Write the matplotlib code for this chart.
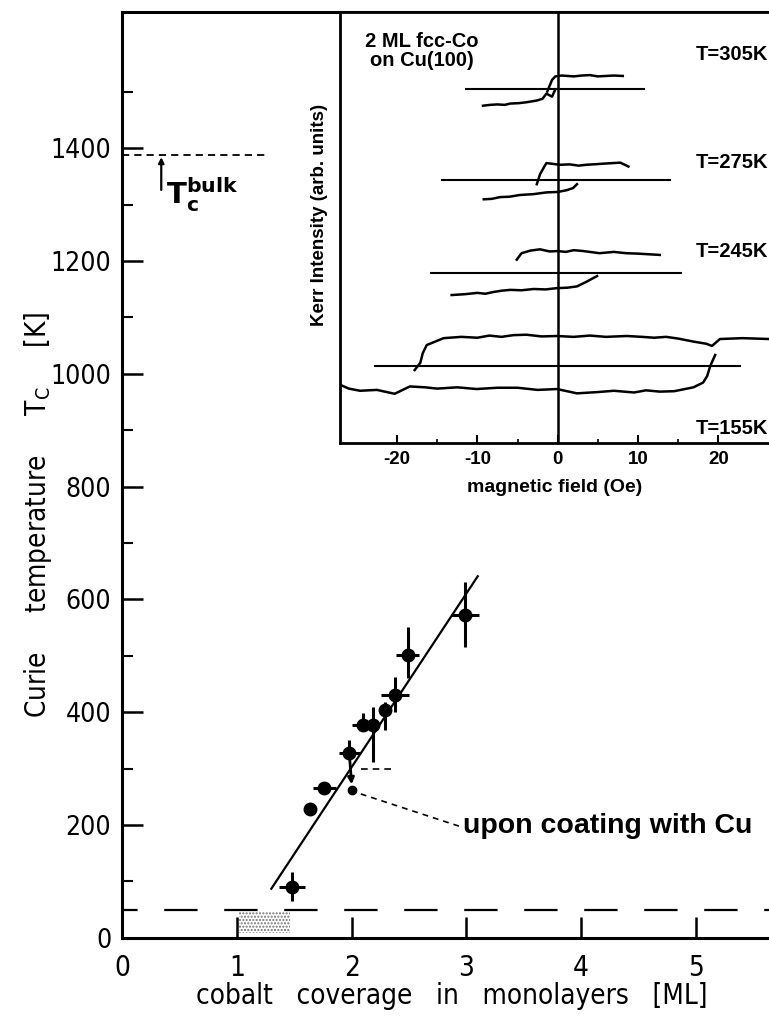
import matplotlib
matplotlib.use('Agg')
import matplotlib.pyplot as plt
from matplotlib import font_manager
from matplotlib.font_manager import FontProperties
from matplotlib.patches import Rectangle

# ---- main panel data (Curie temperature vs coverage) ----
coverage = [1.48, 1.64, 1.76, 1.98, 2.10, 2.19, 2.29, 2.38, 2.49, 2.99]
tc = [90, 229, 266, 327, 377, 377, 404, 430, 501, 572]
cov_err = [0.11, 0.0, 0.10, 0.09, 0.10, 0.0, 0.0, 0.12, 0.10, 0.12]
tc_err_lo = [25, 0, 0, 0, 0, 65, 36, 29, 41, 56]
tc_err_hi = [27, 0, 0, 23, 21, 33, 14, 33, 50, 59]

fit_x = [1.30, 3.10]
fit_y = [87, 641]

coated_x = [2.0]
coated_y = [262]
coated2_x = [2.08, 2.37]
coated2_y = [299, 299]

tc_bulk = 1388
low_limit = 50

# ---- inset data (Kerr loops, arb. units) ----
temps = ['T=305K', 'T=275K', 'T=245K', 'T=155K']
label_y = [90.0, 65.0, 44.4, 3.4]
base_y = [82.1, 60.9, 39.5, 17.9]
base_x0 = [-11.4, -14.4, -15.8, -22.7]
base_x1 = [10.7, 14.0, 15.4, 22.7]

up305_x = [-1.3, -0.7, -0.3, 0.5, 2, 3, 4, 5, 6, 7, 8.1]
up305_y = [81.5, 84.2, 85.0, 85.2, 85.0, 85.2, 85.3, 85.0, 85.1, 85.2, 85.1]
lo305_x = [-9.3, -8.4, -7.5, -6.6, -5.9, -4.8, -3.9, -2.6, -1.9, -1.4, -0.7, -0.3]
lo305_y = [78.2, 78.4, 78.5, 78.4, 78.7, 78.8, 79.0, 79.4, 79.8, 81.0, 80.3, 82.0]

up275_x = [-2.6, -2.2, -1.6, -1.4, 0.3, 1.5, 2.6, 3.5, 4.4, 6, 7.8, 8.8]
up275_y = [60.0, 62.3, 64.3, 64.9, 64.5, 64.6, 64.3, 64.5, 64.6, 64.8, 65.0, 64.1]
lo275_x = [-9.2, -8.2, -7.2, -6, -4.7, -3, -1.4, 0, 1.1, 1.9, 2.4]
lo275_y = [56.5, 56.6, 57.0, 57.1, 57.5, 57.7, 58.1, 58.2, 58.6, 59.1, 60.0]

up245_x = [-5.1, -4.5, -3.4, -2.2, -1, 0, 1, 2, 3.2, 4.4, 5.2, 7, 8.5, 10, 12.7]
up245_y = [42.5, 44.0, 44.6, 44.9, 44.4, 44.5, 44.3, 44.7, 44.5, 44.2, 44.0,
           44.3, 44.0, 43.9, 43.6]
lo245_x = [-13.2, -11.5, -10, -9, -8, -7, -5.9, -4.5, -3, -1.5, -0.1, 1.2, 2.4,
           3.5, 4.9]
lo245_y = [34.3, 34.5, 34.8, 34.6, 35.0, 35.3, 35.5, 35.4, 35.7, 35.6, 35.9,
           36.0, 36.3, 37.3, 38.7]

up155_x = [-17.8, -17.1, -16.8, -16.3, -14.2, -12, -10, -8.5, -7, -5.5, -3.9,
           -2, -0.1, 2, 4, 6, 8.6, 10.5, 12, 13.5, 15, 16.9, 18.5, 19.2, 20.2,
           23, 26.3]
up155_y = [16.9, 18.6, 20.8, 22.7, 24.3, 24.6, 24.4, 24.9, 24.6, 25.0, 25.1,
           24.7, 24.8, 24.6, 24.9, 24.6, 24.8, 24.6, 24.4, 24.6, 24.2, 23.5,
           23.0, 22.5, 24.1, 24.3, 24.1]
lo155_x = [-27.1, -26, -24.6, -22.5, -20.3, -18.4, -16.5, -15, -12.5, -10.1,
           -7.5, -5, -2.5, -0.1, 2.4, 5, 7, 9.5, 11, 12.7, 14.5, 16.9, 18.1,
           18.6, 19.0, 19.6]
lo155_y = [13.5, 12.6, 12.1, 12.3, 11.4, 13.1, 12.9, 12.6, 12.9, 12.5, 12.8,
           12.8, 12.3, 12.5, 11.5, 11.8, 12.1, 11.7, 12.2, 11.9, 12.0, 12.9,
           14.0, 15.5, 17.9, 20.4]

loops = [(up305_x, up305_y, lo305_x, lo305_y),
         (up275_x, up275_y, lo275_x, lo275_y),
         (up245_x, up245_y, lo245_x, lo245_y),
         (up155_x, up155_y, lo155_x, lo155_y)]


def pick_font(size):
    """condensed sans if there is one, else plain DejaVu"""
    for f in font_manager.fontManager.ttflist:
        if f.name.startswith('DejaVu Sans') and 'ondensed' in (str(f.stretch) + f.name) \
                and f.style == 'normal' and f.weight in (400, 'normal', 'book'):
            return FontProperties(family=f.name, stretch=f.stretch, size=size)
    for f in font_manager.fontManager.ttflist:
        if 'Narrow' in f.name:
            return FontProperties(family=f.name, size=size)
    return FontProperties(family='DejaVu Sans', size=size - 2)


fp = pick_font(19)
fp_big = pick_font(20)
fp_lab = pick_font(20)

fig = plt.figure(figsize=(7.69, 10.27), dpi=100)

# ---------------- main panel ----------------
ax = fig.add_axes([0.159, 0.0869, 0.841, 0.9017])
ax.set_xlim(0, 5.64)
ax.set_ylim(0, 1642)

ax.plot(fit_x, fit_y, color='k', lw=1.6)
ax.errorbar(coverage, tc, xerr=cov_err, yerr=[tc_err_lo, tc_err_hi], fmt='o',
            color='k', ms=9, elinewidth=2.2, capsize=0)
ax.annotate('', xy=(coated_x[0], coated_y[0] + 10), xytext=(coverage[3], tc[3]),
            arrowprops=dict(arrowstyle='-|>', lw=2, color='k', mutation_scale=9,
                            shrinkA=0, shrinkB=0))
ax.plot(coated_x, coated_y, 'o', color='k', ms=6)
ax.plot(coated2_x, coated2_y, color='k', lw=1.2, ls=(0, (4, 3)))
ax.plot([2.08, 2.95], [255, 197], color='k', lw=1.2, ls=(0, (3.5, 3)))
ax.text(2.97, 198, 'upon coating with Cu', fontsize=20.5, fontweight='bold',
        family='Liberation Sans', va='center', ha='left')

ax.axhline(low_limit, color='k', lw=1.6, ls=(8, (15, 12)))
ax.add_patch(Rectangle((1.02, 8), 0.44, 38, facecolor='none', edgecolor='0.45',
                       hatch='.....', lw=0))

ax.plot([0, 1.26], [tc_bulk, tc_bulk], color='k', lw=1.3, ls=(0, (4, 2.8)))
ax.annotate('', xy=(0.34, tc_bulk - 4), xytext=(0.34, 1326),
            arrowprops=dict(arrowstyle='-|>', lw=1.6, color='k', mutation_scale=8,
                            shrinkA=0, shrinkB=0))
ax.text(0.38, 1318, r'$\mathbf{T}_{\mathbf{c}}^{\mathbf{bulk}}$', fontsize=21,
        va='center', ha='left')

ax.set_xticks([0, 1, 2, 3, 4, 5])
ax.set_yticks(range(0, 1401, 200))
ax.set_yticks(range(100, 1600, 200), minor=True)
ax.tick_params(axis='both', which='major', direction='in', length=15, width=1.8)
ax.tick_params(axis='y', which='minor', direction='in', length=8, width=1.5)
ax.tick_params(axis='y', pad=8)
ax.tick_params(axis='x', pad=12)
for lbl in ax.get_xticklabels():
    lbl.set_fontproperties(fp_big)
for lbl in ax.get_yticklabels():
    lbl.set_fontproperties(fp)
for side in ['left', 'bottom', 'top']:
    ax.spines[side].set_linewidth(2.2)
ax.spines['right'].set_visible(False)

fig.text(38 / 769, 1 - 515 / 1027,
         r'Curie     temperature     $\mathregular{T_C}$     [K]',
         rotation=90, ha='center', va='center', fontproperties=fp_lab)
fig.text(452 / 769, 1 - 996 / 1027, 'cobalt   coverage   in   monolayers   [ML]',
         ha='center', va='center', fontproperties=fp_lab)

# ---------------- inset ----------------
ax_in = fig.add_axes([0.4421, 0.5687, 0.5579, 0.4199])
ax_in.set_xlim(-27.1, 26.3)
ax_in.set_ylim(0, 100)
ax_in.axvline(0, color='k', lw=1.8)
for i in range(len(temps)):
    ax_in.plot([base_x0[i], base_x1[i]], [base_y[i], base_y[i]], color='k', lw=1.5)
    ux, uy, lx, ly = loops[i]
    ax_in.plot(ux, uy, color='k', lw=1.8)
    ax_in.plot(lx, ly, color='k', lw=1.8)
    ax_in.text(17.2, label_y[i], temps[i], fontsize=14.5, fontweight='bold',
               family='Liberation Sans', va='center', ha='left')

ax_in.text(-16.9, 91, '2 ML fcc-Co\non Cu(100)', fontsize=14.5, fontweight='bold',
           family='Liberation Sans', ha='center', va='center', linespacing=1.0)

ax_in.set_xticks([-20, -10, 0, 10, 20])
ax_in.set_xticklabels(['-20', '-10', '0', '10', '20'], fontweight='bold',
                      family='Liberation Sans', fontsize=13.5)
ax_in.set_xticks([-15, -5, 5, 15], minor=True)
ax_in.tick_params(axis='x', which='major', direction='in', length=6, width=1.5, pad=6)
ax_in.tick_params(axis='x', which='minor', direction='in', length=3, width=1.2)
ax_in.tick_params(axis='y', left=False, labelleft=False)
ax_in.set_xlabel('magnetic field (Oe)', fontsize=14, fontweight='bold',
                 family='Liberation Sans', labelpad=8)
for side in ['left', 'bottom', 'top']:
    ax_in.spines[side].set_linewidth(2)
ax_in.spines['right'].set_visible(False)

fig.text(319 / 769, 1 - 215 / 1027, 'Kerr Intensity (arb. units)', rotation=90,
         fontsize=13.5, fontweight='bold', family='Liberation Sans',
         ha='center', va='center')

fig.savefig('out.png', dpi=100)
